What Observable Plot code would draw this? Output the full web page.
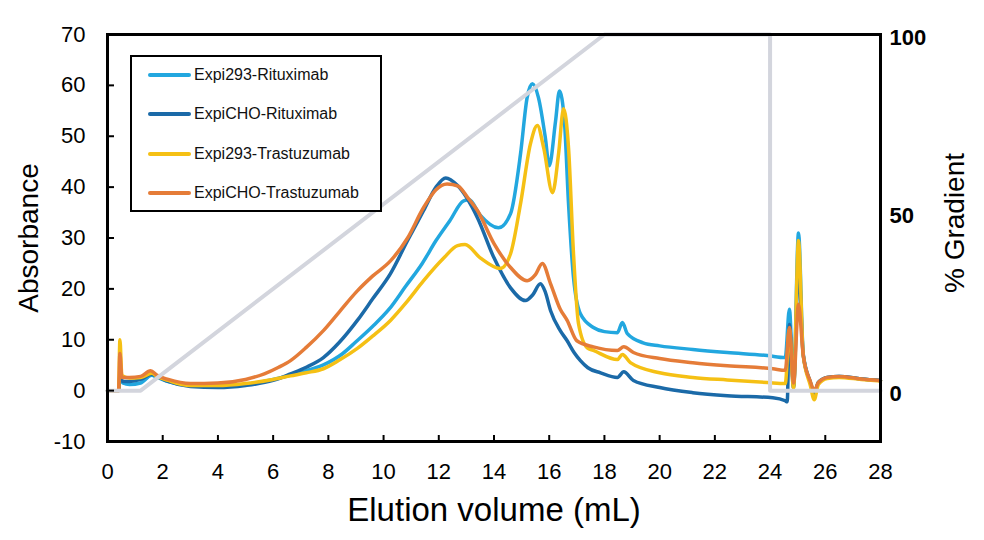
<!DOCTYPE html>
<html>
<head>
<meta charset="utf-8">
<script src="https://cdn.jsdelivr.net/npm/d3@7"></script>
<script src="https://cdn.jsdelivr.net/npm/@observablehq/plot@0.6"></script>
<style>
  html, body { margin: 0; padding: 0; background: #fff; }
  #wrap { position: relative; width: 984px; height: 540px; font-family: "Liberation Sans", Arial, sans-serif; }
  #legend { position: absolute; left: 130px; top: 55px; width: 252px; height: 157px; box-sizing: border-box;
            border: 2px solid #000; background: #fff; }
  .row { position: absolute; left: 16px; height: 20px; display: flex; align-items: center; font-size: 16px; color: #111; }
  .sw { width: 43px; height: 4px; border-radius: 2px; margin-right: 3px; }
  .vtitle { position: absolute; font-size: 28px; color: #000; white-space: nowrap; line-height: 1;
            transform: translate(-50%, -50%) rotate(-90deg); }
</style>
</head>
<body>
<div id="wrap"></div>
<script>
// ---------- data ----------
const seriesNames = ["Expi293-Rituximab", "ExpiCHO-Rituximab", "Expi293-Trastuzumab", "ExpiCHO-Trastuzumab"];
const seriesColors = ["#22a7df", "#1b6aa8", "#f5c014", "#e57c38"];

const volExpi293Ritux = [0,0.4,0.45,0.55,0.8,1.2,1.6,1.8,2.2,3,4,5,6,7,7.8,8.5,9,9.6,10.2,10.8,11.4,11.9,12.4,12.9,13.1,13.5,14.16,14.6,14.96,15.2,15.39,15.61,15.86,16.0,16.23,16.37,16.55,16.7,16.88,17.13,17.6,18.0,18.47,18.65,18.83,19.4,20,21.2,22.45,23.9,24.55,24.7,24.85,25.03,25.2,25.46,25.6,25.75,26.07,26.5,27.3,28];
const absExpi293Ritux = [0,0,2.5,1.5,1.2,1.5,3.0,2.6,1.8,1.0,0.8,1.2,2.2,3.6,5,7.2,9.6,12.6,16,20.5,25,29.5,33.4,37.3,37.5,34.5,32,34.8,46.5,57.6,60.3,57.6,49.7,44.2,53,58.9,53,36.7,22.2,15.1,12.4,11.6,11.4,13.4,11.2,9.4,8.8,8.1,7.5,6.9,6.5,16,1,31,7.3,1.6,-0.5,1.6,2.6,2.8,2.3,2];

const volExpiCHORitux = [0,0.4,0.45,0.55,0.8,1.2,1.6,1.8,2.2,3,4,5,6,6.63,7.2,7.82,8.4,9.05,9.6,10.25,10.87,11.45,11.9,12.25,12.68,13.4,14,14.6,15.14,15.4,15.68,15.85,16.05,16.4,16.65,16.9,17.13,17.4,17.86,18.47,18.7,19.05,20,21.2,22.45,24.1,24.55,24.62,24.7,24.85,25.03,25.2,25.46,25.6,25.75,26.07,26.5,27.3,28];
const absExpiCHORitux = [0,0,3,1.8,1.8,2.2,3.2,2.8,1.8,0.8,0.6,1.0,2.0,3.3,4.6,6.5,9.5,13.8,18,23,29.5,35.4,40,41.8,40.3,34,26.1,20.2,17.7,18.8,21,19.5,15.7,11.8,9.8,7.5,5.9,4.5,3.5,2.6,3.7,2,0.6,-0.4,-1,-1.4,-2,-2.2,13,0.5,25,7,1.6,-0.5,1.6,2.6,2.8,2.3,2];

const volExpi293Trast = [0,0.4,0.45,0.52,0.8,1.2,1.6,1.8,2.2,3,4,5,6,6.63,7.2,7.82,8.4,9.05,9.6,10.25,10.85,11.45,12.17,12.68,12.95,13.5,14.23,14.6,14.96,15.32,15.57,15.8,16.12,16.34,16.52,16.7,16.88,17.06,17.38,17.6,18.47,18.65,18.94,20,21.2,22.45,23.9,24.55,24.7,24.85,25.03,25.2,25.46,25.6,25.75,26.07,26.5,27.3,28];
const absExpi293Trast = [0,0,10,3,2.5,2.6,3.4,2.8,2.0,1.0,1.0,1.4,2.2,2.9,3.5,4.3,6,8.3,10.7,13.8,17.5,21.6,26,28.5,28.7,26.1,24,26.9,36.7,48.5,52.1,47.7,38.9,46.6,55.4,47.7,26.9,13.2,8.4,7.9,6.1,7.1,5.5,3.5,2.6,2.1,1.6,1.4,12,0.5,29.5,7,1,-1.8,1.2,2.4,2.6,2.2,1.9];

const volExpiCHOTrast = [0,0.4,0.45,0.52,0.8,1.2,1.56,1.8,2.2,3,4,5,5.68,6.2,6.63,7.2,7.82,8.4,9.05,9.6,10.25,10.87,11.45,11.9,12.3,12.7,13.04,13.4,14,14.6,15.2,15.5,15.75,16.05,16.4,16.65,17.0,17.6,18.47,18.7,19.05,20,21.2,22.45,24.1,24.55,24.7,24.85,25.03,25.2,25.46,25.6,25.75,26.07,26.5,27.3,28];
const absExpiCHOTrast = [0,0,7.3,2.6,2.6,2.8,3.9,3.0,2.2,1.4,1.5,2.2,3.3,4.6,5.9,8.5,11.8,15.5,19.6,22.5,25.5,30,36,39.5,40.6,40.2,38,35.4,28.9,24.2,21.6,22.8,25,21,16,13.8,9.8,8.6,7.9,8.6,7.5,6.3,5.5,4.9,4.3,4,12.4,1.5,17,7,1.8,0,1.6,2.6,2.8,2.3,2];

const gradVol = [0, 1.2, 18, 24, 24, 28];
const gradPct = [0, 0, 100, 100, 0, 0];

const xTicks = [0,2,4,6,8,10,12,14,16,18,20,22,24,26,28];
const yTicks = [-10,0,10,20,30,40,50,60,70];
const gradTicks = [0, 50, 100];
const gradToAbs = 0.7; // 100 % gradient drawn at absorbance 70

const yTitle = "Absorbance";
const xTitle = "Elution volume (mL)";
const y2Title = "% Gradient";

// ---------- build ----------
const vols = [volExpi293Ritux, volExpiCHORitux, volExpi293Trast, volExpiCHOTrast];
const abss = [absExpi293Ritux, absExpiCHORitux, absExpi293Trast, absExpiCHOTrast];
const lines = seriesNames.map((name, i) => vols[i].map((v, j) => ({v, a: abss[i][j], name})));
const grad = gradVol.map((v, j) => ({v, g: gradPct[j]}));

const FRAME_W = 984 - 107 - 104;
const FRAME_H = 540 - 34 - 99;

const chart = Plot.plot({
  width: 984, height: 540,
  marginLeft: 107, marginRight: 104, marginTop: 34, marginBottom: 99,
  x: {domain: [0, 28]},
  y: {domain: [-10, 70]},
  style: {fontFamily: "'Liberation Sans', Arial, sans-serif", fontSize: "22px", color: "#000", background: "#fff"},
  marks: [
    ...lines.map((d, i) => Plot.line(d, {x: "v", y: "a", stroke: seriesColors[i], strokeWidth: 3.5, curve: "monotone-x"})),
    Plot.line(grad, {x: "v", y: d => d.g * gradToAbs, stroke: "#d3d5dd", strokeWidth: 4}),
    Plot.frame({stroke: "#000", strokeWidth: 3}),
    Plot.tickX(xTicks, {x: d => d, insetTop: FRAME_H - 6, stroke: "#000", strokeWidth: 2}),
    Plot.tickY(yTicks, {y: d => d, insetRight: FRAME_W - 7, stroke: "#000", strokeWidth: 2}),
    Plot.axisX(xTicks, {tickSize: 0, tickPadding: 22, label: null, tickFormat: d => String(d)}),
    Plot.axisY(yTicks, {anchor: "left", tickSize: 0, tickPadding: 22, label: null, tickFormat: d => String(d)}),
    Plot.axisY(gradTicks.map(g => g * gradToAbs), {anchor: "right", tickSize: 0, tickPadding: 9, fontWeight: "bold",
      tickFormat: d => String(Math.round(d / gradToAbs)), label: null, dy: 3}),
    Plot.text([xTitle], {text: d => d, frameAnchor: "bottom", dy: 79, fontSize: 33})
  ]
});

const wrap = document.getElementById("wrap");
wrap.appendChild(chart);

function vTitle(text, cx, cy) {
  const d = document.createElement("div");
  d.className = "vtitle";
  d.textContent = text;
  d.style.left = cx + "px";
  d.style.top = cy + "px";
  wrap.appendChild(d);
}
vTitle(yTitle, 29, 238);
vTitle(y2Title, 955, 223);

const legend = document.createElement("div");
legend.id = "legend";
seriesNames.forEach((name, i) => {
  const row = document.createElement("div");
  row.className = "row";
  row.style.top = (8 + i * 39.3) + "px";
  const sw = document.createElement("div");
  sw.className = "sw";
  sw.style.background = seriesColors[i];
  const t = document.createElement("span");
  t.textContent = name;
  row.appendChild(sw); row.appendChild(t);
  legend.appendChild(row);
});
wrap.appendChild(legend);
</script>
</body>
</html>
